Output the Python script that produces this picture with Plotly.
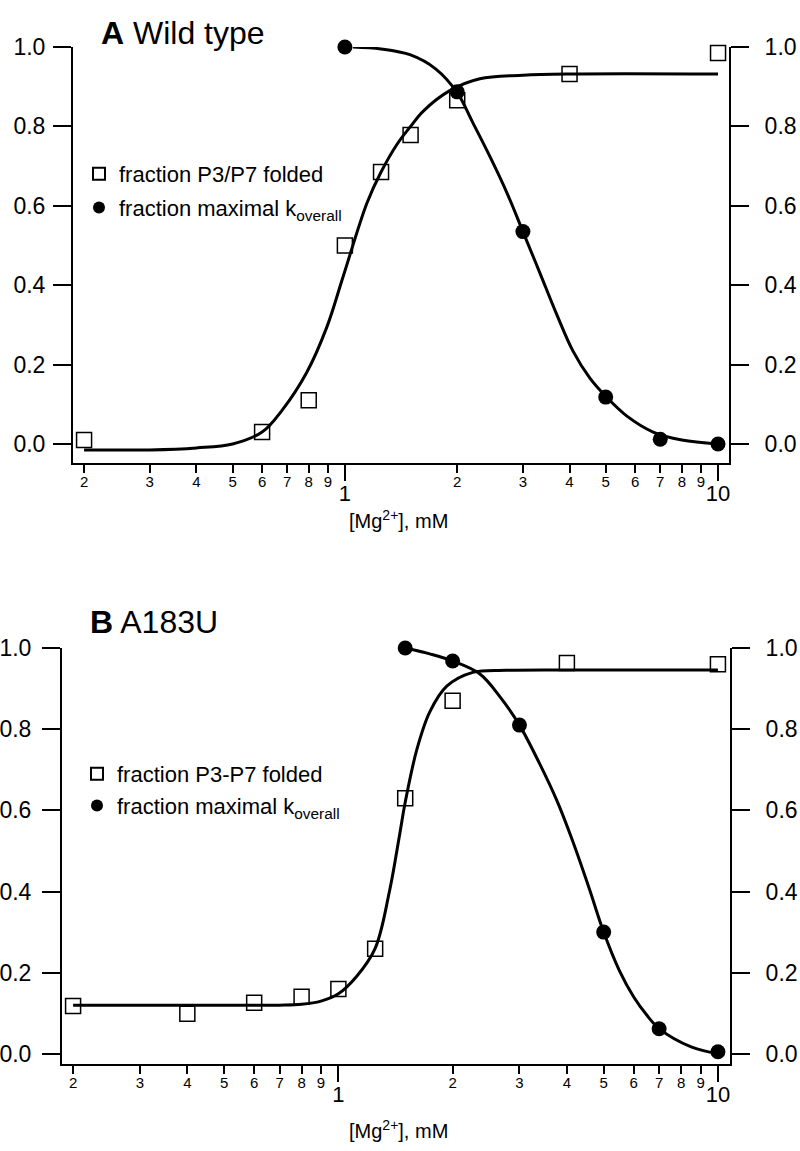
import numpy as np
import plotly.graph_objects as go

# ---- panel A: wild type ----
a_fold_x = [0.2, 0.6, 0.8, 1.0, 1.25, 1.5, 2.0, 4.0, 10.0]
a_fold_y = [0.01, 0.03, 0.11, 0.50, 0.685, 0.778, 0.866, 0.932, 0.985]
a_rate_x = [1.0, 2.0, 3.0, 5.0, 7.0, 10.0]
a_rate_y = [1.0, 0.887, 0.535, 0.118, 0.012, 0.0]

# fitted curves
a_fold_fit_x = [0.2, 0.3, 0.4, 0.5, 0.6, 0.68, 0.79, 0.895, 0.988, 1.146, 1.25, 1.38, 1.5, 1.62, 1.91, 2.3, 3.0, 4.0, 10.0]
a_fold_fit_y = [-0.015, -0.015, -0.01, 0.0, 0.03, 0.086, 0.18, 0.295, 0.42, 0.607, 0.685, 0.755, 0.80, 0.838, 0.89, 0.92, 0.929, 0.932, 0.932]
a_rate_fit_x = [1.05, 1.25, 1.5, 1.75, 2.0, 2.2, 2.45, 2.72, 3.0, 3.33, 3.7, 4.08, 4.54, 5.0, 5.7, 6.7, 8.0, 10.0]
a_rate_fit_y = [1.0, 0.995, 0.98, 0.945, 0.885, 0.81, 0.723, 0.632, 0.535, 0.431, 0.325, 0.235, 0.165, 0.12, 0.07, 0.03, 0.01, 0.0]

# ---- panel B: A183U ----
b_fold_x = [0.2, 0.4, 0.6, 0.8, 1.0, 1.25, 1.5, 2.0, 4.0, 10.0]
b_fold_y = [0.118, 0.099, 0.126, 0.141, 0.16, 0.259, 0.63, 0.87, 0.963, 0.96]
b_rate_x = [1.5, 2.0, 3.0, 5.0, 7.0, 10.0]
b_rate_y = [1.0, 0.968, 0.81, 0.30, 0.062, 0.005]

b_fold_fit_x = [0.2, 0.5, 0.7, 0.8, 0.9, 1.0, 1.115, 1.25, 1.363, 1.45, 1.5, 1.61, 1.74, 1.93, 2.26, 2.77, 4.0, 10.0]
b_fold_fit_y = [0.12, 0.12, 0.12, 0.122, 0.13, 0.148, 0.19, 0.26, 0.40, 0.54, 0.62, 0.75, 0.842, 0.906, 0.94, 0.945, 0.946, 0.946]
b_rate_fit_x = [1.5, 1.75, 2.0, 2.36, 2.66, 3.0, 3.39, 3.76, 4.14, 4.59, 5.0, 5.5, 6.0, 6.5, 7.0, 8.5, 10.0]
b_rate_fit_y = [1.0, 0.985, 0.968, 0.936, 0.881, 0.81, 0.715, 0.625, 0.525, 0.405, 0.30, 0.205, 0.14, 0.095, 0.062, 0.017, 0.0]

minor_vals = [0.2, 0.3, 0.4, 0.5, 0.6, 0.7, 0.8, 0.9, 2, 3, 4, 5, 6, 7, 8, 9]
minor_text = ['2', '3', '4', '5', '6', '7', '8', '9', '2', '3', '4', '5', '6', '7', '8', '9']
major_vals = [1, 10]
major_text = ['1', '10']
y_vals = [0.0, 0.2, 0.4, 0.6, 0.8, 1.0]

W, H = 800, 1151
FONT = 'Liberation Sans, Arial, Helvetica, sans-serif'


def px_x(p):
    return p / W


def px_y(p):
    return 1 - p / H


fig = go.Figure()


def add_panel(xa, ya, leg, fx, fy, rx, ry, ffx, ffy, rfx, rfy, name_fold):
    fig.add_trace(go.Scatter(x=ffx, y=ffy, mode='lines', line=dict(color='black', width=3, shape='spline'),
                             xaxis=xa, yaxis=ya, showlegend=False, hoverinfo='skip'))
    fig.add_trace(go.Scatter(x=rfx, y=rfy, mode='lines', line=dict(color='black', width=3, shape='spline'),
                             xaxis=xa, yaxis=ya, showlegend=False, hoverinfo='skip'))
    fig.add_trace(go.Scatter(x=fx, y=fy, mode='markers', name=name_fold, legendgroup='fold',
                             marker=dict(symbol='square-open', size=15, color='black', line=dict(width=1.5)),
                             xaxis=xa, yaxis=ya, legend=leg, cliponaxis=False))
    fig.add_trace(go.Scatter(x=rx, y=ry, mode='markers', name='fraction maximal k<sub>overall</sub>',
                             legendgroup='rate', marker=dict(symbol='circle', size=15, color='black'),
                             xaxis=xa, yaxis=ya, legend=leg, cliponaxis=False))


add_panel('x', 'y', 'legend', a_fold_x, a_fold_y, a_rate_x, a_rate_y,
          a_fold_fit_x, a_fold_fit_y, a_rate_fit_x, a_rate_fit_y, 'fraction P3/P7 folded')
add_panel('x3', 'y3', 'legend2', b_fold_x, b_fold_y, b_rate_x, b_rate_y,
          b_fold_fit_x, b_fold_fit_y, b_rate_fit_x, b_rate_fit_y, 'fraction P3-P7 folded')

# empty traces so the overlay axes get their subplots
fig.add_trace(go.Scatter(x=[], y=[], xaxis='x2', yaxis='y2', showlegend=False))
fig.add_trace(go.Scatter(x=[], y=[], xaxis='x4', yaxis='y4', showlegend=False))


def x_axes(dom, anchor, overlay, xr):
    base = dict(type='log', range=xr, domain=dom, anchor=anchor, showgrid=False, zeroline=False,
                ticks='outside', tickcolor='black', automargin=False)
    minor = dict(base, showline=True, linecolor='black', linewidth=2, tickvals=minor_vals, ticktext=minor_text,
                 ticklen=8, tickwidth=1.5, tickfont=dict(size=15, color='black'), ticklabelstandoff=-4)
    major = dict(base, overlaying=overlay, side='bottom', showline=False, tickvals=major_vals, ticktext=major_text,
                 ticklen=17, tickwidth=2, tickfont=dict(size=22, color='black'), ticklabelstandoff=-6)
    return minor, major


def y_axes(dom, anchor, overlay, yr, left_sd, right_sd):
    base = dict(range=yr, domain=dom, anchor=anchor, showgrid=False, zeroline=False, showline=True,
                linecolor='black', linewidth=2, ticks='outside', ticklen=18, tickwidth=2, tickcolor='black',
                tickvals=y_vals, tickformat='.1f', tickfont=dict(size=23, color='black'), automargin=False)
    left = dict(base, ticklabelstandoff=left_sd)
    right = dict(base, overlaying=overlay, side='right', ticklabelstandoff=right_sd)
    return left, right


xa_rng = [np.log10(0.1868), np.log10(10.7)]
xb_rng = [np.log10(0.187), np.log10(10.76)]
xa1, xa2 = x_axes([px_x(73), px_x(729)], 'y', 'x', xa_rng)
xb1, xb2 = x_axes([px_x(62), px_x(730)], 'y3', 'x3', xb_rng)
ya1, ya2 = y_axes([px_y(463), px_y(47)], 'x', 'y', [-0.048, 1.0], 3, 11)
yb1, yb2 = y_axes([px_y(1064), px_y(648)], 'x3', 'y3', [-0.025, 1.0], 6, 11)

leg_style = dict(font=dict(size=22, color='black'), bgcolor='rgba(0,0,0,0)', xanchor='left', yanchor='top',
                 itemsizing='constant', traceorder='grouped')

fig.update_layout(
    width=W, height=H,
    margin=dict(l=0, r=0, t=0, b=0, autoexpand=False),
    paper_bgcolor='white', plot_bgcolor='white',
    font=dict(family=FONT, color='black'),
    xaxis=xa1, xaxis2=xa2, xaxis3=xb1, xaxis4=xb2,
    yaxis=ya1, yaxis2=ya2, yaxis3=yb1, yaxis4=yb2,
    legend=dict(leg_style, x=px_x(79), y=px_y(153), tracegroupgap=2),
    legend2=dict(leg_style, x=px_x(77), y=px_y(753), tracegroupgap=0),
    annotations=[
        dict(text='<b>A</b> Wild type', x=px_x(99), y=px_y(33), xref='paper', yref='paper',
             xanchor='left', yanchor='middle', showarrow=False, font=dict(size=32)),
        dict(text='<b>B</b> A183U', x=px_x(88), y=px_y(622), xref='paper', yref='paper',
             xanchor='left', yanchor='middle', showarrow=False, font=dict(size=32)),
        dict(text='[Mg<sup>2+</sup>], mM', x=px_x(398), y=px_y(519), xref='paper', yref='paper',
             xanchor='center', yanchor='middle', showarrow=False, font=dict(size=20)),
        dict(text='[Mg<sup>2+</sup>], mM', x=px_x(398), y=px_y(1129), xref='paper', yref='paper',
             xanchor='center', yanchor='middle', showarrow=False, font=dict(size=20)),
    ],
)

fig.write_html('out.html', config={'displayModeBar': False},
               post_script="document.body.style.margin='0';")
